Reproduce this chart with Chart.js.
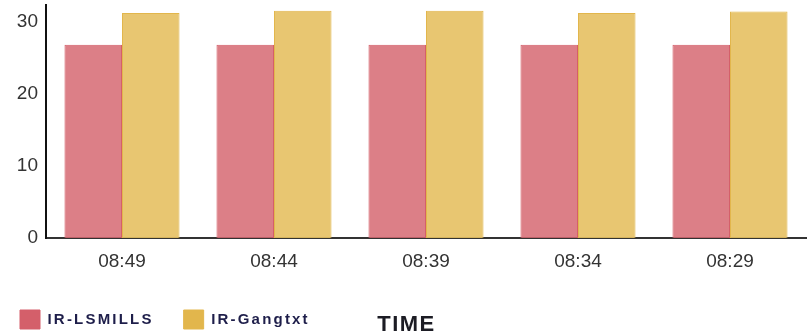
<!DOCTYPE html>
<html>
<head>
<meta charset="utf-8">
<script src="https://cdn.jsdelivr.net/npm/chart.js@4"></script>
<style>
  html, body { margin: 0; padding: 0; background: #fff; }
  #wrap { width: 811px; height: 336px; }
</style>
</head>
<body>
<div id="wrap"><canvas id="chart"></canvas></div>
<script>
  // Time slots along the x axis
  const categories = ['08:49', '08:44', '08:39', '08:34', '08:29'];
  // Series values
  const lsmills = [26.8, 26.8, 26.8, 26.8, 26.8];
  const gangtxt = [31.2, 31.5, 31.5, 31.2, 31.4];
  const yTicks = [0, 10, 20, 30];

  const FONT = '"Liberation Sans", Arial, sans-serif';

  // Legend text in the reference is letter-spaced; wrap the legend's fit/draw
  const legendSpacing = {
    id: 'legendSpacing',
    beforeLayout(chart) {
      const lg = chart.legend;
      if (!lg || lg._spaced) return;
      lg._spaced = true;
      ['fit', 'draw'].forEach(fn => {
        const orig = lg[fn];
        lg[fn] = function () {
          const ctx = chart.ctx;
          ctx.save();
          ctx.letterSpacing = '2.2px';
          const r = orig.apply(this, arguments);
          ctx.restore();
          return r;
        };
      });
    }
  };

  // Axis title sits on the legend row, centred on the canvas
  const timeTitle = {
    id: 'timeTitle',
    afterDraw(chart) {
      const ctx = chart.ctx;
      const box = chart.legend.legendHitBoxes[0];
      ctx.save();
      ctx.letterSpacing = '1.5px';
      ctx.font = 'bold 22px ' + FONT;
      ctx.fillStyle = '#1c1c24';
      ctx.textAlign = 'center';
      ctx.textBaseline = 'alphabetic';
      ctx.fillText('TIME', chart.width / 2 + 1, box.top + box.height + 2);
      ctx.restore();
    }
  };

  new Chart(document.getElementById('chart'), {
    type: 'bar',
    data: {
      labels: categories,
      datasets: [
        {
          label: 'IR-LSMILLS',
          data: lsmills,
          backgroundColor: 'rgba(214, 104, 114, 0.85)',
          borderColor: '#d45f6a',
          borderWidth: 1
        },
        {
          label: 'IR-Gangtxt',
          data: gangtxt,
          backgroundColor: 'rgba(229, 192, 98, 0.9)',
          borderColor: '#e2b64c',
          borderWidth: 1
        }
      ]
    },
    options: {
      responsive: true,
      maintainAspectRatio: false,
      animation: false,
      layout: { padding: { top: 5, right: 5, left: -10, bottom: -3 } },
      datasets: {
        bar: { categoryPercentage: 0.757, barPercentage: 1 }
      },
      scales: {
        x: {
          grid: { display: false },
          border: { display: true, color: '#333', width: 2 },
          ticks: {
            color: '#333',
            padding: 4,
            font: { family: FONT, size: 19 }
          },
          afterFit(s) { s.height = 42; }
        },
        y: {
          min: 0,
          max: 32.3,
          afterBuildTicks(s) { s.ticks = yTicks.map(v => ({ value: v })); },
          grid: { display: false },
          border: { display: true, color: '#111', width: 2 },
          ticks: {
            color: '#333',
            padding: 0,
            font: { family: FONT, size: 19 }
          },
          afterFit(s) {
            s.width = 56;
            s.paddingTop = 0;
            s.paddingBottom = 0;
          }
        }
      },
      plugins: {
        legend: {
          position: 'bottom',
          align: 'start',
          labels: {
            boxWidth: 20,
            boxHeight: 19,
            padding: 30,
            color: '#1e1e4a',
            font: { family: FONT, size: 15, weight: 'bold' },
            generateLabels(chart) {
              const items = Chart.defaults.plugins.legend.labels.generateLabels(chart);
              items.forEach(it => { it.fillStyle = it.strokeStyle; });
              return items;
            }
          }
        },
        tooltip: { enabled: false }
      }
    },
    plugins: [legendSpacing, timeTitle]
  });
</script>
</body>
</html>
